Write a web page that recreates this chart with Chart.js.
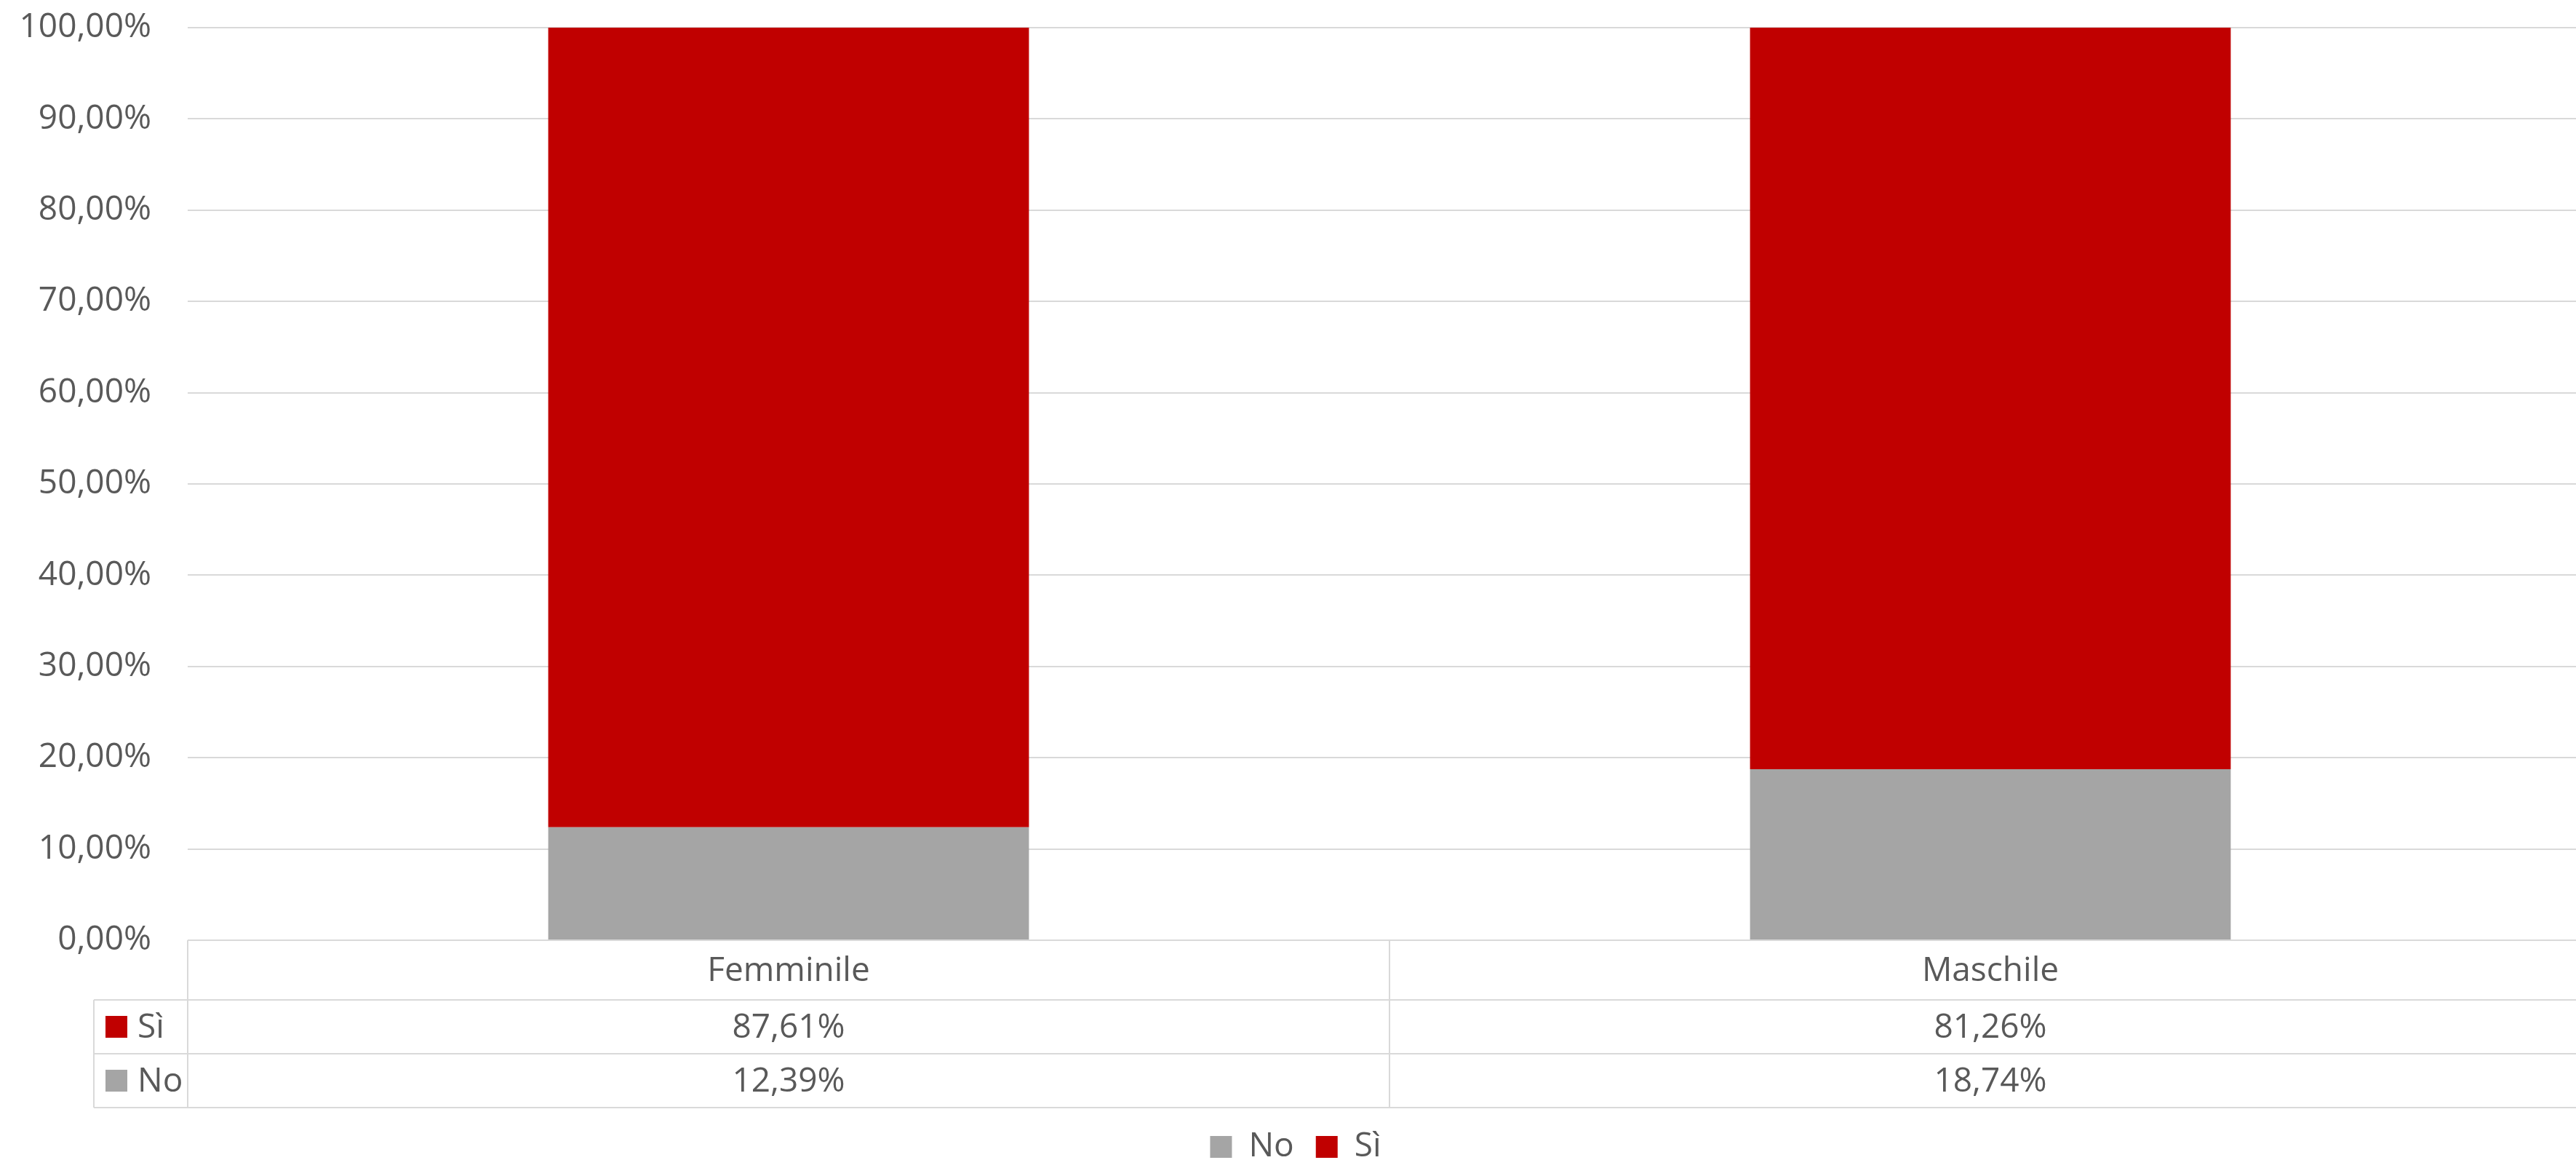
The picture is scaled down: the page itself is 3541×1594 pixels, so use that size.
<!DOCTYPE html>
<html>
<head>
<meta charset="utf-8">
<script src="https://cdn.jsdelivr.net/npm/chart.js@4"></script>
<style>
  html, body { margin: 0; padding: 0; background: #fff; overflow: hidden; }
  #wrap { width: 3562px; height: 1609px; }
</style>
</head>
<body>
<div id="wrap"><canvas id="chart"></canvas></div>
<script>
// chart data
const categories = ['Femminile', 'Maschile'];
const noValues = [12.39, 18.74];
const siValues = [87.61, 81.26];
const seriesNames = ['No', 'Sì'];
const seriesColors = ['#a5a5a5', '#c00000'];

const FONT = "'Open Sans', 'Liberation Sans', sans-serif";
const TEXT = '#595959';
const LINE = '#d9d9d9';

const fmt = v => v.toFixed(2).replace('.', ',') + '%';

// draws the data table under the plot (Excel style)
const dataTable = {
  id: 'dataTable',
  afterDraw(chart) {
    const { ctx, chartArea, scales: { x } } = chart;
    const step = x.getPixelForValue(1) - x.getPixelForValue(0);
    const top = chartArea.bottom;
    const headH = 82, rowH = 74;
    const rows = chart.data.datasets.slice().reverse();
    const bottom = top + headH + rowH * rows.length;
    const tableLeft = 129;
    const right = x.getPixelForValue(categories.length - 1) + step / 2;

    ctx.save();
    ctx.strokeStyle = LINE;
    ctx.lineWidth = 2;
    ctx.beginPath();
    // horizontal lines
    ctx.moveTo(chartArea.left, top); ctx.lineTo(right, top);
    for (let r = 0; r <= rows.length; r++) {
      const y = top + headH + rowH * r;
      ctx.moveTo(tableLeft, y); ctx.lineTo(right, y);
    }
    // vertical lines
    ctx.moveTo(tableLeft, top + headH); ctx.lineTo(tableLeft, bottom);
    for (let i = 0; i <= categories.length; i++) {
      const xx = x.getPixelForValue(i) - step / 2;
      ctx.moveTo(xx, top); ctx.lineTo(xx, bottom);
    }
    ctx.stroke();

    ctx.font = '46px ' + FONT;
    ctx.fillStyle = TEXT;
    ctx.textBaseline = 'middle';
    ctx.textAlign = 'center';
    categories.forEach((c, i) => {
      ctx.fillText(c, x.getPixelForValue(i), top + headH / 2 + 2);
    });
    rows.forEach((ds, r) => {
      const cy = top + headH + rowH * r + rowH / 2 + 2;
      ctx.textAlign = 'center';
      ctx.fillStyle = TEXT;
      ds.data.forEach((v, i) => ctx.fillText(fmt(v), x.getPixelForValue(i), cy));
      ctx.fillStyle = ds.backgroundColor;
      ctx.fillRect(145, cy - 17, 30, 30);
      ctx.fillStyle = TEXT;
      ctx.textAlign = 'left';
      ctx.fillText(ds.label, 189, cy);
    });
    ctx.restore();
  }
};

new Chart(document.getElementById('chart'), {
  type: 'bar',
  data: {
    labels: categories,
    datasets: [
      { label: seriesNames[0], data: noValues, backgroundColor: seriesColors[0] },
      { label: seriesNames[1], data: siValues, backgroundColor: seriesColors[1] }
    ]
  },
  options: {
    responsive: true,
    maintainAspectRatio: false,
    animation: false,
    layout: { padding: 0 },
    datasets: { bar: { barPercentage: 0.4, categoryPercentage: 1 } },
    scales: {
      x: {
        stacked: true,
        grid: { display: false },
        border: { display: false },
        ticks: { display: false },
        afterFit: s => { s.height = 231; }
      },
      y: {
        stacked: true,
        min: 0,
        max: 100,
        ticks: {
          stepSize: 10,
          padding: 50,
          color: TEXT,
          font: { family: FONT, size: 46 },
          callback: v => fmt(v)
        },
        grid: { color: LINE, lineWidth: 2, drawTicks: false },
        border: { display: false },
        afterFit: s => { s.width = 258; s.paddingTop = 38; s.paddingBottom = 0; }
      }
    },
    plugins: {
      tooltip: { enabled: false },
      legend: {
        position: 'bottom',
        labels: {
          boxWidth: 30,
          boxHeight: 30,
          padding: 30,
          color: TEXT,
          font: { family: FONT, size: 46 }
        }
      }
    }
  },
  plugins: [dataTable]
});
</script>
</body>
</html>
